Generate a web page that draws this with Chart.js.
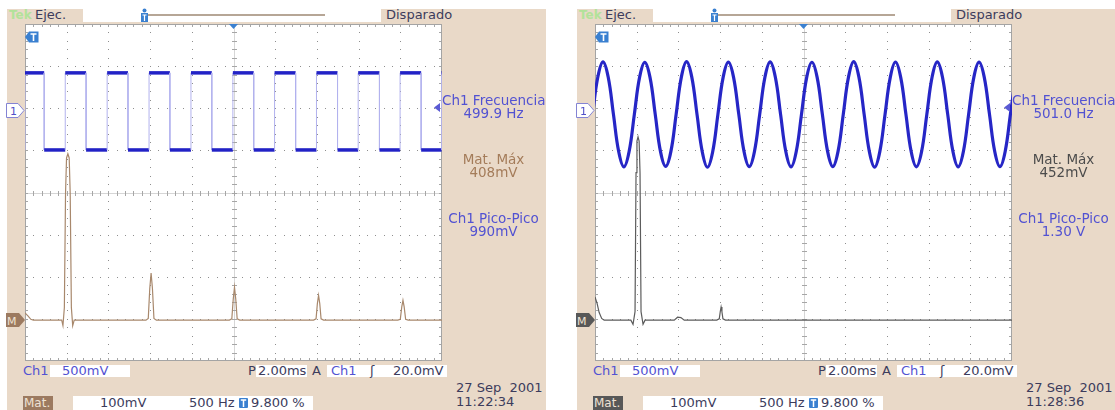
<!DOCTYPE html>
<html><head><meta charset="utf-8">
<script src="https://cdn.jsdelivr.net/npm/chart.js@4.4.1/dist/chart.umd.min.js"></script>
<style>
*{box-sizing:border-box}
html,body{margin:0;padding:0;background:#fff;width:1115px;height:410px;overflow:hidden}
body{position:relative;font-family:"DejaVu Sans",Verdana,sans-serif}
.scope{position:absolute;top:0;width:546px;height:410px;overflow:hidden}
.tan{position:absolute;left:7px;top:9px;width:539px;height:401px;background:#e9d9c8}
.abs{position:absolute}
.t{position:absolute;white-space:nowrap;line-height:14px;font-size:13px;color:#3c3c5c}
.wb{position:absolute;background:#fff}
.blue{color:#5252d2}
.panel{position:absolute;left:441px;width:105px;text-align:center;white-space:nowrap;line-height:14px;font-size:13.5px}
canvas{position:absolute;left:25px;top:24px}
</style></head>
<body>
<script>
// ===== Left capture: Ch1 square wave + Math FFT =====
// Ch1 edge times (ms), alternating rise / fall, first one a rise at the left edge
const sqEdgeMs = [0.00, 0.92, 1.93, 2.93, 3.94, 4.94, 5.95, 6.95, 7.96, 8.96, 9.97,
                  10.97, 11.97, 12.98, 13.98, 14.99, 15.98, 17.00, 17.99, 19.00, 19.98];
const sqLowV = -0.475;
const sqHighV = 0.440;
// Math (FFT) trace: frequency (Hz) and amplitude (V)
const fftLeftHz = [0, 35, 70, 100, 440, 455, 472, 486, 498, 514, 530, 542, 556, 572, 590,
                   1450, 1478, 1496, 1512, 1528, 1546, 1575,
                   2450, 2480, 2497, 2512, 2527, 2544, 2575,
                   3460, 3490, 3506, 3520, 3534, 3550, 3580,
                   4470, 4500, 4518, 4532, 4546, 4564, 4595, 5000];
const fftLeftV  = [0.017, 0.010, 0.002, 0, 0, -0.013, 0.03, 0.30, 0.385, 0.395, 0.385, 0.30, 0.03, -0.013, 0,
                   0, 0.004, 0.075, 0.112, 0.075, 0.004, 0,
                   0, 0.003, 0.050, 0.078, 0.050, 0.003, 0,
                   0, 0.003, 0.040, 0.059, 0.040, 0.003, 0,
                   0, 0.002, 0.032, 0.047, 0.032, 0.002, 0, 0];

// ===== Right capture: Ch1 sine + Math FFT =====
const sineStartMs = -0.117;   // time of first stored sample
const sineSampleMs = 0.2505;  // sample interval
const sineV = [
  -0.053, 0.388, 0.571, 0.388, -0.053, -0.494, -0.677, -0.494,
  -0.053, 0.386, 0.565, 0.386, -0.053, -0.492, -0.671, -0.492,
  -0.053, 0.390, 0.574, 0.390, -0.053, -0.496, -0.680, -0.496,
  -0.053, 0.387, 0.568, 0.387, -0.053, -0.493, -0.674, -0.493,
  -0.053, 0.388, 0.571, 0.388, -0.053, -0.494, -0.677, -0.494,
  -0.053, 0.386, 0.566, 0.386, -0.053, -0.492, -0.672, -0.492,
  -0.053, 0.389, 0.573, 0.389, -0.053, -0.495, -0.679, -0.495,
  -0.053, 0.387, 0.569, 0.387, -0.053, -0.494, -0.675, -0.494,
  -0.053, 0.388, 0.571, 0.388, -0.053, -0.494, -0.677, -0.494,
  -0.053, 0.386, 0.567, 0.386, -0.053, -0.493, -0.673, -0.493,
  -0.053, 0.388];
const fftRightHz = [0, 25, 50, 80, 110, 430, 456, 480, 492, 503, 516, 529, 540, 552, 576, 600,
                    950, 990, 1030, 1070,
                    1460, 1490, 1502, 1512, 1522, 1534, 1565, 5000];
const fftRightV  = [0.055, 0.040, 0.018, 0.004, 0, 0, -0.010, 0.02, 0.35, 0.425, 0.435, 0.425, 0.35, 0.02, -0.010, 0,
                    0, 0.007, 0.006, 0,
                    0, 0.003, 0.020, 0.031, 0.020, 0.003, 0, 0];

// ===== Screen scales =====
const timeRangeMs = [0, 20];        // 2.00 ms/div x 10 div
const freqRangeHz = [0, 5000];      // 500 Hz/div x 10 div
const ch1RangeV = [-2.98, 1.02];    // 500 mV/div x 8 div, ground 2.04 div below top
const mathRangeV = [-0.097, 0.703]; // 100 mV/div x 8 div
</script>

<div class="scope" id="s1" style="left:0px"></div>
<div class="scope" id="s2" style="left:570px"></div>

<script>
const readouts = [
  {freq:'499.9 Hz', max:'408mV', pp:'990mV', time:'11:22:34', mathColor:'#a8886c', mathBox:'#9c7a60', maxColor:'#a47c5a'},
  {freq:'501.0 Hz', max:'452mV', pp:'1.30 V', time:'11:28:36', mathColor:'#5c5c5c', mathBox:'#585858', maxColor:'#4c4c4c'}
];

function buildScope(el, r, canvasId) {
  el.innerHTML = `
  <div class="tan"></div>
  <div class="wb" style="left:83px;top:9px;width:298px;height:13px"></div>
  <div class="abs" style="left:147px;top:14px;width:178px;height:2px;background:#b6a696"></div>
  <svg class="abs" style="left:140px;top:8px" width="9" height="15"><circle cx="4.5" cy="2.5" r="2" fill="#3a80d0"/><rect x="1" y="5" width="7" height="9" fill="#3a80d0"/><path d="M2.5 7H6.5M4.5 7V13" stroke="#fff" stroke-width="1.2"/></svg>
  <span class="t" style="left:9px;top:8px;color:#b2e29a;font-weight:bold;font-size:12px">Tek</span>
  <span class="t" style="left:35px;top:8px">Ejec.</span>
  <span class="t" style="left:386px;top:8px">Disparado</span>
  <div class="wb" style="left:25px;top:24px;width:417px;height:337px"></div>
  <canvas id="${canvasId}" width="417" height="337"></canvas>
  <svg class="abs" style="left:229px;top:24px" width="9" height="6"><path d="M0 0H9L4.5 5Z" fill="#3a80d0"/></svg>
  <svg class="abs" style="left:25px;top:31px" width="14" height="12"><path d="M0 6L4 0.5H13.5V11.5H4Z" fill="#3a80d0"/><path d="M5.5 3H11.5M8.5 3V10" stroke="#fff" stroke-width="1.6"/></svg>
  <svg class="abs" style="left:6px;top:103px" width="19" height="15"><path d="M0.5 0.5H12L18 7.5L12 14.5H0.5Z" fill="#fff" stroke="#8484d4"/><text x="4" y="12" font-family="DejaVu Sans" font-size="11" fill="#5050c8">1</text></svg>
  <svg class="abs" style="left:6px;top:313px" width="19" height="14"><path d="M0 0H13L19 7L13 14H0Z" fill="${r.mathBox}"/><text x="1" y="11.5" font-family="DejaVu Sans" font-size="11" fill="#efe2d4">M</text></svg>
  <svg class="abs" style="left:434px;top:103px" width="7" height="9"><path d="M0 4.5L6 0V9Z" fill="#5a5ad4"/></svg>
  <span class="t blue" style="left:442px;top:93px;font-size:13.5px">Ch1 Frecuencia</span>
  <div class="panel blue" style="top:106px">${r.freq}</div>
  <div class="panel" style="top:152px;color:${r.maxColor}">Mat. Máx</div>
  <div class="panel" style="top:165px;color:${r.maxColor}">${r.max}</div>
  <div class="panel blue" style="top:211px">Ch1 Pico-Pico</div>
  <div class="panel blue" style="top:224px">${r.pp}</div>
  <span class="t blue" style="left:23px;top:364px">Ch1</span>
  <div class="wb" style="left:50px;top:365px;width:80px;height:12px"></div>
  <span class="t blue" style="left:62px;top:364px">500mV</span>
  <span class="t" style="left:248px;top:364px">P</span>
  <div class="wb" style="left:256px;top:365px;width:51px;height:12px"></div>
  <span class="t" style="left:258px;top:364px">2.00ms</span>
  <span class="t" style="left:312px;top:364px">A</span>
  <div class="wb" style="left:327px;top:365px;width:120px;height:12px"></div>
  <span class="t blue" style="left:331px;top:364px">Ch1</span>
  <span class="t" style="left:370px;top:364px">ʃ</span>
  <span class="t" style="left:393px;top:364px">20.0mV</span>
  <div class="abs" style="left:23px;top:396px;width:30px;height:14px;background:${r.mathBox}"></div>
  <span class="t" style="left:24px;top:396px;color:#efe2d4;font-size:12px">Mat.</span>
  <div class="wb" style="left:73px;top:396px;width:240px;height:14px"></div>
  <span class="t" style="left:100px;top:396px">100mV</span>
  <span class="t" style="left:189px;top:396px">500 Hz</span>
  <svg class="abs" style="left:239px;top:398px" width="9" height="10"><rect width="9" height="10" rx="1" fill="#3a80d0"/><path d="M1.8 2H7.2M4.5 2V9" stroke="#fff" stroke-width="1.5"/></svg>
  <span class="t" style="left:251px;top:396px">9.800 %</span>
  <span class="t" style="left:456px;top:381px">27 Sep&nbsp; 2001</span>
  <span class="t" style="left:456px;top:395px">${r.time}</span>`;
}
buildScope(document.getElementById('s1'), readouts[0], 'c1');
buildScope(document.getElementById('s2'), readouts[1], 'c2');

// ===== Graticule: 10 x 8 divisions drawn from the chart's own division scales =====
const graticule = {
  id: 'graticule',
  beforeDatasetsDraw(chart) {
    const ctx = chart.ctx, gx = chart.scales.gx, gy = chart.scales.gy;
    const X = v => Math.round(gx.getPixelForValue(v));
    const Y = v => Math.round(gy.getPixelForValue(v));
    ctx.save();
    // dotted division lines, one dot every 0.2 div
    ctx.fillStyle = '#8e8e8e';
    for (let i = 1; i < 10; i++) for (let m = 1; m < 40; m++) ctx.fillRect(X(i), Y(-4 + m * 0.2), 1, 1);
    for (let j = -3; j <= 3; j++) for (let m = 1; m < 50; m++) ctx.fillRect(X(m * 0.2), Y(j), 1, 1);
    // centre cross: light line with minor ticks
    ctx.lineWidth = 1;
    ctx.strokeStyle = '#d6d6d6';
    ctx.beginPath();
    ctx.moveTo(X(0), Y(0) + 0.5); ctx.lineTo(X(10), Y(0) + 0.5);
    ctx.moveTo(X(5) + 0.5, Y(4)); ctx.lineTo(X(5) + 0.5, Y(-4));
    ctx.stroke();
    ctx.strokeStyle = '#a6a6a6';
    ctx.beginPath();
    for (let m = 1; m < 50; m++) { const x = X(m * 0.2) + 0.5, y = Y(0) + 0.5; ctx.moveTo(x, y - 2.5); ctx.lineTo(x, y + 2.5); }
    for (let m = 1; m < 40; m++) { const x = X(5) + 0.5, y = Y(-4 + m * 0.2) + 0.5; ctx.moveTo(x - 2.5, y); ctx.lineTo(x + 2.5, y); }
    // border ticks
    for (let m = 1; m < 50; m++) { const x = X(m * 0.2) + 0.5; ctx.moveTo(x, Y(4)); ctx.lineTo(x, Y(4) + 3); ctx.moveTo(x, Y(-4)); ctx.lineTo(x, Y(-4) - 3); }
    for (let m = 1; m < 40; m++) { const y = Y(-4 + m * 0.2) + 0.5; ctx.moveTo(X(0), y); ctx.lineTo(X(0) + 3, y); ctx.moveTo(X(10), y); ctx.lineTo(X(10) - 3, y); }
    ctx.stroke();
    ctx.strokeStyle = '#a4a4a4';
    ctx.strokeRect(X(0) + 0.5, Y(4) + 0.5, X(10) - X(0) - 1, Y(-4) - Y(4) - 1);
    ctx.restore();
  }
};

function scopeChart(id, ch1Data, ch1Style, mathData, mathColor) {
  return new Chart(document.getElementById(id), {
    type: 'line',
    data: {
      datasets: [
        {data: mathData, xAxisID: 'xf', yAxisID: 'ym', borderColor: mathColor, borderWidth: 1.2,
         pointRadius: 0, tension: 0, order: 0},
        Object.assign({data: ch1Data, xAxisID: 'xt', yAxisID: 'yv', pointRadius: 0, order: 1}, ch1Style)
      ]
    },
    options: {
      responsive: false, animation: false, events: [],
      layout: {padding: 0},
      plugins: {legend: {display: false}, tooltip: {enabled: false}},
      scales: {
        xt: {axis: 'x', type: 'linear', display: false, min: timeRangeMs[0], max: timeRangeMs[1]},
        xf: {axis: 'x', type: 'linear', display: false, min: freqRangeHz[0], max: freqRangeHz[1]},
        gx: {axis: 'x', type: 'linear', display: false, min: 0, max: 10},
        yv: {axis: 'y', type: 'linear', display: false, min: ch1RangeV[0], max: ch1RangeV[1]},
        ym: {axis: 'y', type: 'linear', display: false, min: mathRangeV[0], max: mathRangeV[1]},
        gy: {axis: 'y', type: 'linear', display: false, min: -4, max: 4}
      }
    },
    plugins: [graticule]
  });
}

// square wave: each edge becomes a vertical step between the two levels
const sqPoints = [];
let lvl = sqLowV;
sqEdgeMs.forEach(t => {
  sqPoints.push({x: t, y: lvl});
  lvl = (lvl === sqLowV) ? sqHighV : sqLowV;
  sqPoints.push({x: t, y: lvl});
});
sqPoints.push({x: timeRangeMs[1], y: lvl});

const isEdge = c => c.p0.parsed.x === c.p1.parsed.x;
scopeChart('c1', sqPoints, {
  borderColor: '#2222c6', borderWidth: 3.5, tension: 0,
  segment: {
    borderColor: c => isEdge(c) ? '#b2b2ee' : '#2222c6',
    borderWidth: c => isEdge(c) ? 1 : 3.5
  }
}, fftLeftHz.map((f, i) => ({x: f, y: fftLeftV[i]})), readouts[0].mathColor);

scopeChart('c2', sineV.map((v, i) => ({x: sineStartMs + i * sineSampleMs, y: v})), {
  borderColor: '#2626c6', borderWidth: 3.2, tension: 0.4
}, fftRightHz.map((f, i) => ({x: f, y: fftRightV[i]})), readouts[1].mathColor);
</script>
</body></html>
